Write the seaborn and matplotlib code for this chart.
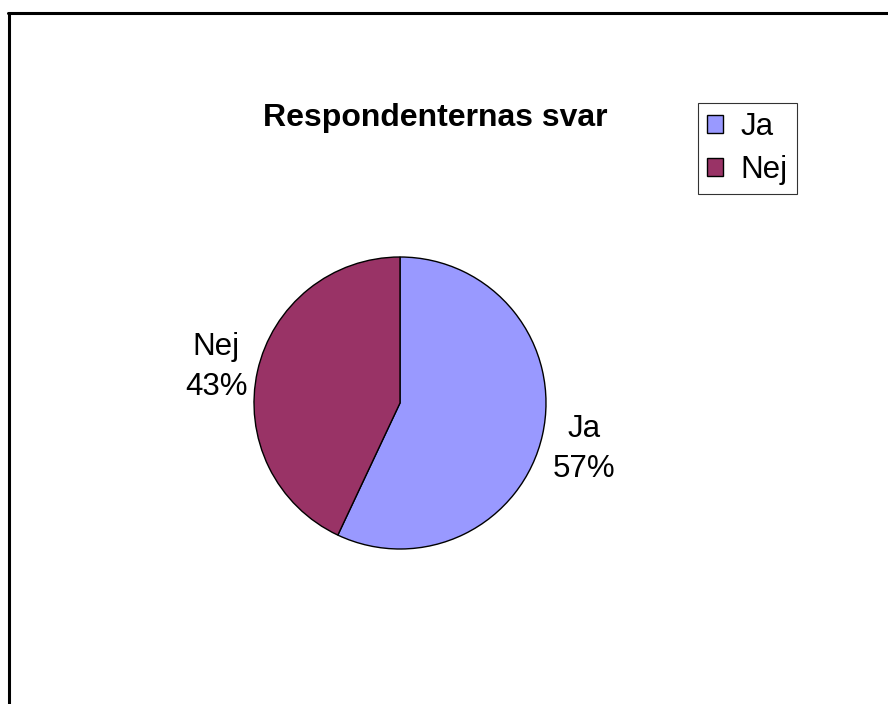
import matplotlib
matplotlib.use("Agg")
import matplotlib.pyplot as plt
import seaborn as sns
from matplotlib.lines import Line2D

sns.set_style("white")
plt.rcParams['font.family'] = ['Liberation Sans', 'DejaVu Sans']
plt.rcParams['text.color'] = 'black'

# data
categories = ["Ja", "Nej"]
shares = [57, 43]
colors = ["#9999FF", "#993366"]
title = "Respondenternas svar"

fig = plt.figure(figsize=(8.88, 7.04), dpi=100)
W, H = 888, 704

# pie axes: centre (400, 403) px, radius 146 px
cx, cy, r = 400, 403, 146
ax = fig.add_axes([(cx - r) / W, (H - cy - r) / H, 2 * r / W, 2 * r / H])
labels = [f"{c}\n{s}%" for c, s in zip(categories, shares)]
wedges, texts = ax.pie(shares, colors=colors, labels=labels, startangle=90,
                       counterclock=False, labeldistance=1.29,
                       wedgeprops=dict(edgecolor="black", linewidth=1.0),
                       textprops=dict(fontsize=22.5, linespacing=1.45, color="black"))
for t in texts:
    t.set_ha("center")
    t.set_va("center")
    x, y = t.get_position()
    t.set_position((x, y - 0.035))
ax.set_xlim(-1, 1)
ax.set_ylim(-1, 1)
ax.set_aspect("equal")
ax.axis("off")

fig.text(435 / W, 1 - 118 / H, title, ha="center", va="center",
         fontsize=23, fontweight="bold", color="black")

leg = fig.legend(wedges, categories, loc="upper left",
                 bbox_to_anchor=(698 / W, 1 - 103 / H),
                 fontsize=22.5, frameon=True, fancybox=False,
                 edgecolor="black", handlelength=0.5, handleheight=0.5,
                 handletextpad=0.55, labelspacing=0.4, borderpad=0.3,
                 borderaxespad=0)
leg.get_frame().set_linewidth(0.8)
for t in leg.get_texts():
    t.set_color("black")
for h in leg.legend_handles:
    h.set_edgecolor("black")
    h.set_linewidth(1.0)

# outer border (only top and left visible)
fig.add_artist(Line2D([9 / W, 9 / W], [0, 1 - 13 / H], color="black", lw=2.2,
                      transform=fig.transFigure))
fig.add_artist(Line2D([8 / W, 1], [1 - 13 / H, 1 - 13 / H], color="black", lw=2.2,
                      transform=fig.transFigure))

fig.savefig("out.png", dpi=100)
